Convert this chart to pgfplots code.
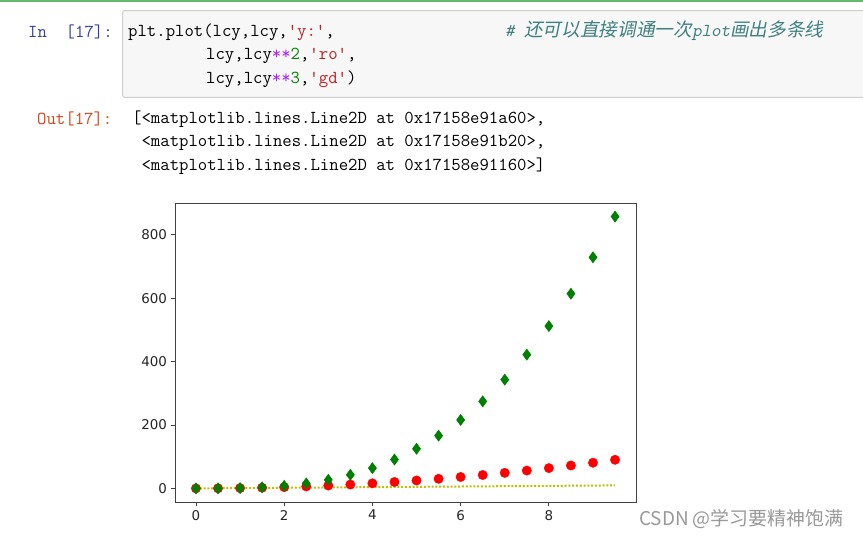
\documentclass[border=0pt]{standalone}
\usepackage{fontspec}
\usepackage{pgfplots}
\pgfplotsset{compat=1.18}
\newfontfamily\cjk{Noto Sans CJK SC}
\newfontfamily\cjkit[FakeSlant=0.2]{Noto Sans CJK SC}
\newfontfamily\monosl{lmmono10-regular}[Extension=.otf, FakeSlant=0.2]
\newfontfamily\dejavu{DejaVu Sans}
\definecolor{incolor}{HTML}{303F9F}
\definecolor{outcolor}{HTML}{D84315}
\definecolor{strc}{HTML}{BA2121}
\definecolor{opc}{HTML}{AA22FF}
\definecolor{numc}{HTML}{008800}
\definecolor{commc}{HTML}{408080}
\definecolor{cellbg}{HTML}{F7F7F7}
\definecolor{cellbd}{HTML}{CFCFCF}
\definecolor{selgreen}{HTML}{66BB6A}
\definecolor{wm}{HTML}{999999}
\definecolor{mplyellow}{rgb}{0.75,0.75,0}
\definecolor{mplred}{rgb}{1,0,0}
\definecolor{mplgreen}{rgb}{0,0.5,0}
\newcommand\codefont{\ttfamily\fontsize{18.3}{20}\selectfont}
\pgfdeclareplotmark{tdiam}{%
  \pgfpathmoveto{\pgfqpoint{0pt}{1.375\pgfplotmarksize}}%
  \pgfpathlineto{\pgfqpoint{\pgfplotmarksize}{0pt}}%
  \pgfpathlineto{\pgfqpoint{0pt}{-1.375\pgfplotmarksize}}%
  \pgfpathlineto{\pgfqpoint{-\pgfplotmarksize}{0pt}}%
  \pgfpathclose
  \pgfusepathqfillstroke}
\begin{document}
\begin{tikzpicture}
\path[use as bounding box, fill=white] (0,0) rectangle (863bp,536bp);
\begin{scope}[x=1bp,y=1bp]
\draw[selgreen, line width=1.3bp] (0,535) -- (863,535);
\draw[fill=cellbg, draw=cellbd, line width=1bp, rounded corners=2bp] (122.7,525.3) rectangle (880,438.7);
\node[anchor=west, inner sep=0] at (28,504) {\codefont\color{incolor}In\ \ [17]:};
\node[anchor=west, inner sep=0] at (128,504) {\codefont plt.plot(lcy,lcy,{\color{strc}'y:'},};
\node[anchor=west, inner sep=0] at (206,480.5) {\codefont lcy,lcy{\color{opc}**}{\color{numc}2},{\color{strc}'ro'},};
\node[anchor=west, inner sep=0] at (206,457) {\codefont lcy,lcy{\color{opc}**}{\color{numc}3},{\color{strc}'gd'})};
\node[anchor=west, inner sep=0] at (505,505) {\color{commc}{\monosl\fontsize{18.3}{20}\selectfont\#\ }{\cjkit\fontsize{18.7}{20}\selectfont 还可以直接调通一次}{\monosl\fontsize{18.3}{20}\selectfont plot}{\cjkit\fontsize{18.7}{20}\selectfont 画出多条线}};
\node[anchor=west, inner sep=0] at (37,417) {\codefont\color{outcolor}Out[17]:};
\node[anchor=west, inner sep=0] at (132,417) {\codefont [<matplotlib.lines.Line2D at 0x17158e91a60>,};
\node[anchor=west, inner sep=0] at (141.4,393.5) {\codefont <matplotlib.lines.Line2D at 0x17158e91b20>,};
\node[anchor=west, inner sep=0] at (141.4,370) {\codefont <matplotlib.lines.Line2D at 0x17158e91160>]};
\node[anchor=west, inner sep=0] at (639,17) {\cjk\fontsize{19}{20}\selectfont\color{wm}CSDN @学习要精神饱满};
\end{scope}
\begin{axis}[
  at={(175bp,34bp)}, anchor=south west, scale only axis,
  width=461bp, height=299bp,
  xmin=-0.475, xmax=9.975, ymin=-42.87, ymax=900.24,
  xtick={0,2,4,6,8}, ytick={0,200,400,600,800},
  tick align=outside, tick pos=left, major tick length=4.5bp,
  axis line style={black!75, line width=0.9bp},
  every tick/.style={black!75, line width=0.9bp},
  ticklabel style={font=\dejavu\fontsize{13.5}{14}\selectfont, text=black!85},
  /pgf/number format/assume math mode=true,
  /pgf/number format/1000 sep={},
]
\addplot[mplyellow, line width=2bp, dash pattern=on 2bp off 1.8bp, no markers] coordinates {
(0,0) (0.5,0.5) (1,1) (1.5,1.5) (2,2) (2.5,2.5) (3,3) (3.5,3.5) (4,4) (4.5,4.5)
(5,5) (5.5,5.5) (6,6) (6.5,6.5) (7,7) (7.5,7.5) (8,8) (8.5,8.5) (9,9) (9.5,9.5)};
\addplot[only marks, mark=*, mark size=4.7bp, mark options={fill=mplred, draw=mplred}] coordinates {
(0,0) (0.5,0.25) (1,1) (1.5,2.25) (2,4) (2.5,6.25) (3,9) (3.5,12.25) (4,16) (4.5,20.25)
(5,25) (5.5,30.25) (6,36) (6.5,42.25) (7,49) (7.5,56.25) (8,64) (8.5,72.25) (9,81) (9.5,90.25)};
\addplot[only marks, mark=tdiam, mark size=4bp, mark options={fill=mplgreen, draw=mplgreen, line width=0.6bp}] coordinates {
(0,0) (0.5,0.125) (1,1) (1.5,3.375) (2,8) (2.5,15.625) (3,27) (3.5,42.875) (4,64) (4.5,91.125)
(5,125) (5.5,166.375) (6,216) (6.5,274.625) (7,343) (7.5,421.875) (8,512) (8.5,614.125) (9,729) (9.5,857.375)};
\end{axis}
\end{tikzpicture}
\end{document}
